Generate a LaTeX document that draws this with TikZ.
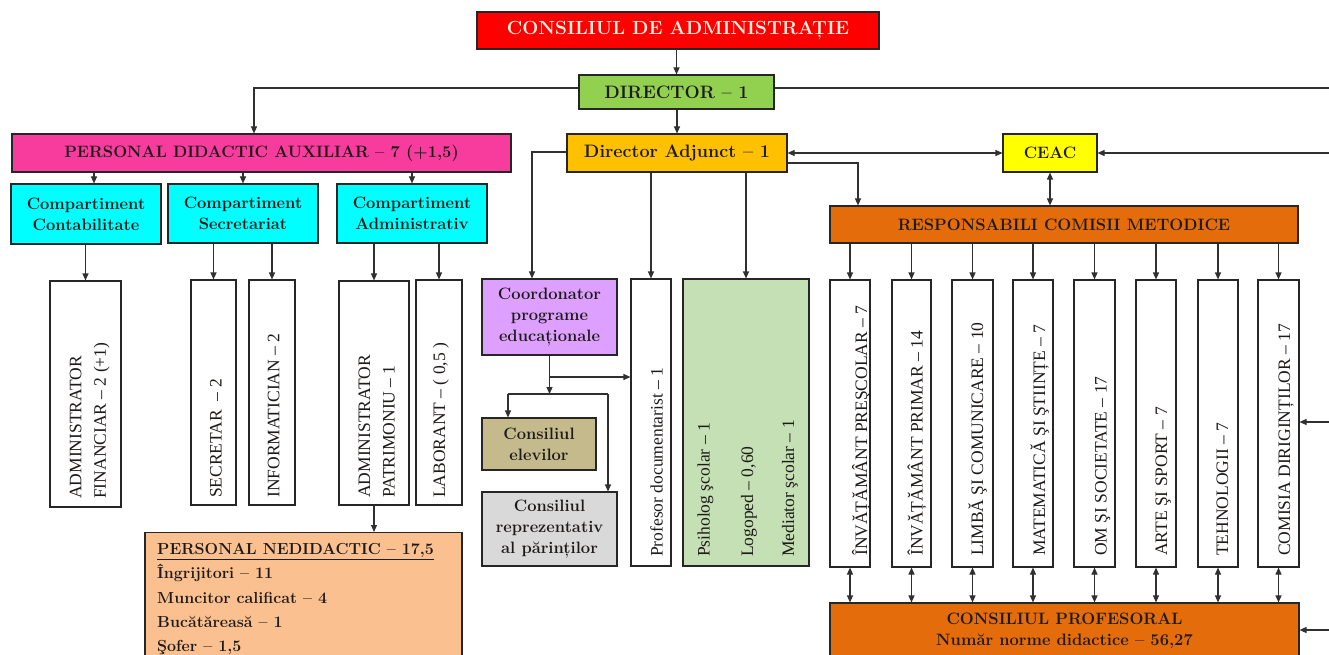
\documentclass[tikz,border=0pt]{standalone}
\usepackage{fontspec}
\usetikzlibrary{arrows.meta,calc}
\newfontfamily\tnr{Liberation Serif}
\newcommand\myfA{\fontsize{18}{21}\selectfont\bfseries}
\newcommand\myfC{\fontsize{19}{21}\selectfont\bfseries}
\newcommand\myfB{\fontsize{16.5}{21}\selectfont\bfseries}
\newcommand\myfV{\tnr\fontsize{17.5}{24.5}\selectfont}
\newcommand\myfN{\fontsize{16}{24.2}\selectfont\bfseries}
\definecolor{cRed}{HTML}{FF0000}
\definecolor{cCream}{HTML}{FFF2E2}
\definecolor{cGreen}{HTML}{92D050}
\definecolor{cAmber}{HTML}{FFC000}
\definecolor{cYellow}{HTML}{FFFF00}
\definecolor{cOrange}{HTML}{E46C0A}
\definecolor{cPink}{HTML}{F73C9E}
\definecolor{cCyan}{HTML}{00FFFF}
\definecolor{cPurple}{HTML}{DDA0FF}
\definecolor{cKhaki}{HTML}{C4BA8C}
\definecolor{cGray}{HTML}{D9D9D9}
\definecolor{cLGreen}{HTML}{C4E0B4}
\definecolor{cPeach}{HTML}{FAC08F}
\definecolor{cBorder}{HTML}{262626}
\definecolor{cLine}{HTML}{303030}
\definecolor{cTxt}{HTML}{1E1A18}
\tikzset{
  box/.style={draw=cBorder, line width=1.1pt, inner sep=0pt, align=center, text=cTxt, font=\myfB},
  vbox/.style={draw=cBorder, line width=1.1pt, inner sep=0pt, fill=white},
  vtxt/.style={rotate=90, inner sep=0pt, align=left, font=\myfV, text=cTxt},
  ln/.style={draw=cLine, line width=1.1pt},
  arr/.style={ln, -{Triangle[length=7pt,width=6pt]}},
  darr/.style={ln, {Triangle[length=7pt,width=6pt]}-{Triangle[length=7pt,width=6pt]}}
}
\begin{document}
\begin{tikzpicture}[x=1pt,y=-1pt]
\useasboundingbox (0,0) rectangle (1329,655);
\clip (0,0) rectangle (1329,655);
% top level
\node[box, fill=cRed, text=cCream, font=\myfC, minimum width=402, minimum height=37] (cda) at (678,30.5) {CONSILIUL DE ADMINISTRAȚIE};
\node[box, fill=cGreen, font=\myfA, minimum width=195, minimum height=34] (dir) at (676.5,92) {DIRECTOR – 1};
\node[box, fill=cAmber, font=\myfA, minimum width=220, minimum height=38] (da) at (677,153) {Director Adjunct – 1};
\node[box, fill=cYellow, minimum width=94, minimum height=38] (ceac) at (1050,153) {CEAC};
\node[box, fill=cOrange, minimum width=468, minimum height=37] (rcm) at (1064,224.5) {RESPONSABILI COMISII METODICE};
\node[box, fill=cPink, minimum width=499, minimum height=38] (pda) at (261.5,153) {PERSONAL DIDACTIC AUXILIAR – 7 (+1,5)};
\node[box, fill=cCyan, minimum width=150, minimum height=60] (cc) at (86,214) {Compartiment\\Contabilitate};
\node[box, fill=cCyan, minimum width=150, minimum height=59] (cs) at (243,213.5) {Compartiment\\Secretariat};
\node[box, fill=cCyan, minimum width=150, minimum height=59] (ca) at (412,213.5) {Compartiment\\Administrativ};
% auxiliary staff
\node[vbox, minimum width=71, minimum height=226] (af) at (85.5,394) {};
\node[vtxt, anchor=west] (aft) at (89.7,499) {ADMINISTRATOR\\FINANCIAR – 2 (+1)};
\node[vbox, minimum width=45, minimum height=225] (sec) at (213.5,392.5) {};
\node[vtxt, anchor=base west] (sect) at (221.7,498) {SECRETAR\ \ – 2};
\node[vbox, minimum width=46, minimum height=225] (inf) at (272,392.5) {};
\node[vtxt, anchor=base west] (inft) at (279.3,498) {INFORMATICIAN – 2};
\node[vbox, minimum width=70, minimum height=224] (ap) at (374,393) {};
\node[vtxt, anchor=west] (apt) at (376.7,498) {ADMINISTRATOR\\PATRIMONIU – 1};
\node[vbox, minimum width=46, minimum height=225] (lab) at (439,392.5) {};
\node[vtxt, anchor=base west] (labt) at (445,498) {LABORANT – ( 0,5 )};
\node[box, fill=cPeach, minimum width=317, minimum height=140, anchor=north] (pn) at (303.5,532) {};
\node[anchor=north west, inner sep=0pt, align=left, text=cTxt, font=\myfN] (pnt) at (157,543.3)
  {\underline{PERSONAL NEDIDACTIC – 17,5}\\Îngrijitori – 11\\Muncitor calificat – 4\\Bucătăreasă – 1\\Şofer – 1,5};
% middle
\node[box, fill=cPurple, minimum width=135, minimum height=76] (coord) at (549.5,317) {Coordonator\\programe\\educaționale};
\node[box, fill=cKhaki, minimum width=114, minimum height=52] (elev) at (539,444) {Consiliul\\elevilor};
\node[box, fill=cGray, minimum width=135, minimum height=74] (rep) at (549.5,529) {Consiliul\\reprezentativ\\al părinților};
\node[vbox, minimum width=40, minimum height=287] (pd) at (651,422.5) {};
\node[vtxt, anchor=base west] (pdt) at (662.7,557) {Profesor documentarist – 1};
\node[vbox, fill=cLGreen, minimum width=126, minimum height=287] (gr) at (746,422.5) {};
\node[vtxt, anchor=base west] (grt1) at (709.5,557) {Psiholog şcolar – 1};
\node[vtxt, anchor=base west] (grt2) at (753,557) {Logoped – 0,60};
\node[vtxt, anchor=base west] (grt3) at (794,557) {Mediator şcolar – 1};
% committees
\foreach \i/\xa/\xb/\bl/\t in {
  1/830/870/867/ÎNVĂȚĂMÂNT PREŞCOLAR – 7,
  2/892/931/922.7/ÎNVĂȚĂMÂNT PRIMAR – 14,
  3/952/993/983/LIMBĂ ŞI COMUNICARE – 10,
  4/1013/1053/1045/MATEMATICĂ ŞI ŞTIINȚE – 7,
  5/1074/1115/1106.7/OM ŞI SOCIETATE – 17,
  6/1136/1176/1167/ARTE ŞI SPORT – 7,
  7/1198/1238/1228/TEHNOLOGII – 7,
  8/1258/1299/1290/COMISIA DIRIGINȚILOR – 17}{
  \node[vbox, minimum width=\xb-\xa, minimum height=287] (c\i) at ({(\xa+\xb)/2},423.5) {};
  \node[vtxt, anchor=base west] (ct\i) at (\bl,556) {\t};
}
\node[box, fill=cOrange, minimum width=469, minimum height=55] (cp) at (1064.5,630.5) {CONSILIUL PROFESORAL\\Număr norme didactice – 56,27};
% connectors
\draw[arr] (dir.north |- cda.south) -- (dir.north);
\draw[arr] ([yshift=4pt]dir.west) -| ([xshift=-7.5pt]pda.north);
\coordinate (e1) at (1329,88);
\draw[ln] ([yshift=4pt]dir.east) -- (e1);
\draw[arr] (da.north |- dir.south) -- (da.north);
\draw[arr] ([yshift=1pt]da.west) -| ([xshift=-17.5pt]coord.north);
\draw[arr] (pd.north |- da.south) -- (pd.north);
\draw[arr] (gr.north |- da.south) -- (gr.north);
\draw[darr] (da.east) -- (ceac.west);
\draw[arr] ([yshift=-10pt]da.east) -| ([xshift=-206pt]rcm.north);
\coordinate (e2) at (1329,153);
\draw[arr] (e2) -- (ceac.east);
\draw[darr] (ceac.south) -- (ceac.south |- rcm.north);
\foreach \i in {1,...,8}{
  \draw[arr] (c\i.north |- rcm.south) -- (c\i.north);
  \draw[darr] (c\i.south) -- (c\i.south |- cp.north);
}
\coordinate (e3) at (1329,422);
\draw[arr] (e3) -- (e3 -| c8.east);
\coordinate (e4) at (1329,630);
\draw[arr] (e4) -- (e4 -| cp.east);
\coordinate (a1) at ($(cc.north)+(8,0)$);
\draw[arr] (a1 |- pda.south) -- (a1);
\draw[arr] (cs.north |- pda.south) -- (cs.north);
\draw[arr] (ca.north |- pda.south) -- (ca.north);
\draw[arr] (af.north |- cc.south) -- (af.north);
\draw[arr] (sec.north |- cs.south) -- (sec.north);
\draw[arr] (inf.north |- cs.south) -- (inf.north);
\draw[arr] (ap.north |- ca.south) -- (ap.north);
\draw[arr] (lab.north |- ca.south) -- (lab.north);
\draw[arr] (ap.south) -- (ap.south |- pn.north);
\coordinate (j) at (550,394);
\coordinate (jl) at (508,394);
\coordinate (jr) at (608,394);
\coordinate (jb) at (550,377);
\draw[arr] (coord.south) -- (coord.south |- j);
\draw[ln] (jl) -- (jr);
\draw[arr] (jl) -- (jl |- elev.north);
\draw[arr] (jr) -- (jr |- rep.north);
\draw[arr] (coord.south |- jb) -- (jb -| pd.west);
\end{tikzpicture}
\end{document}
